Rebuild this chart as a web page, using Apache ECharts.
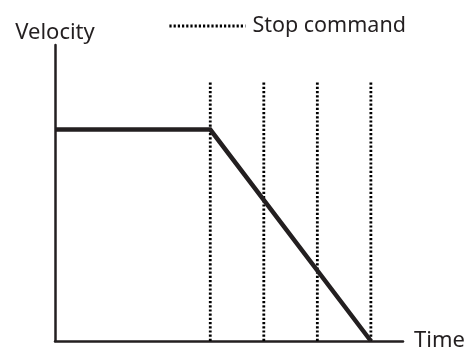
<!DOCTYPE html>
<html>
<head>
<meta charset="utf-8">
<script src="https://cdn.jsdelivr.net/npm/echarts@6/dist/echarts.min.js"></script>
<style>html,body{margin:0;padding:0;background:#fff}#c{width:474px;height:352px}</style>
</head>
<body>
<div id="c"></div>
<script>
// Data (time in arbitrary units, velocity normalized)
var velocityTime = [0, 2.9, 5.9];
var velocityValue = [1, 1, 0];
var stopTimes = [2.9, 3.9, 4.9, 5.9];
var stopLineTop = 1.23;
var xMax = 6.5;
var yMax = 1.4;

var ink = '#231f20';
var font = 'Noto Sans';

var series = [{
  name: 'Velocity',
  type: 'line',
  data: velocityTime.map(function (t, i) { return [t, velocityValue[i]]; }),
  symbol: 'none',
  itemStyle: { color: ink },
  lineStyle: { color: ink, width: 4.5, join: 'miter' },
  z: 5,
  silent: true
}];
stopTimes.forEach(function (t) {
  series.push({
    name: 'Stop command',
    type: 'line',
    data: [[t, 0], [t, stopLineTop]],
    symbol: 'none',
    itemStyle: { color: ink },
    lineStyle: { color: '#000', width: 2.8, type: [2.2, 2] },
    z: 3,
    silent: true
  });
});

var chart = echarts.init(document.getElementById('c'), null, { renderer: 'canvas' });
chart.setOption({
  animation: false,
  backgroundColor: '#fff',
  textStyle: { fontFamily: font, color: ink },
  grid: { left: 55, right: 71, top: 45, bottom: 10, containLabel: false },
  legend: {
    data: [{ name: 'Stop command' }],
    left: 163,
    top: 10,
    itemWidth: 76,
    itemHeight: 14,
    itemGap: 8,
    itemStyle: { opacity: 0 },
    lineStyle: { color: '#000', width: 2.8, type: [2.2, 2], opacity: 1 },
    textStyle: { fontFamily: font, fontSize: 21.5, color: ink, padding: [0, 0, 0, 2] },
    selectedMode: false
  },
  xAxis: {
    type: 'value', min: 0, max: xMax,
    name: 'Time', nameLocation: 'end', nameGap: 11,
    nameTextStyle: { fontFamily: font, fontSize: 22, color: ink, verticalAlign: 'middle', padding: [4, 0, 0, 0] },
    axisLine: { show: true, lineStyle: { color: ink, width: 2.5 } },
    axisTick: { show: false }, axisLabel: { show: false }, splitLine: { show: false }
  },
  yAxis: {
    type: 'value', min: 0, max: yMax,
    name: 'Velocity', nameLocation: 'end', nameGap: 1,
    nameTextStyle: { fontFamily: font, fontSize: 22, color: ink, align: 'center' },
    axisLine: { show: true, lineStyle: { color: ink, width: 2.5 } },
    axisTick: { show: false }, axisLabel: { show: false }, splitLine: { show: false }
  },
  series: series
});
</script>
</body>
</html>
